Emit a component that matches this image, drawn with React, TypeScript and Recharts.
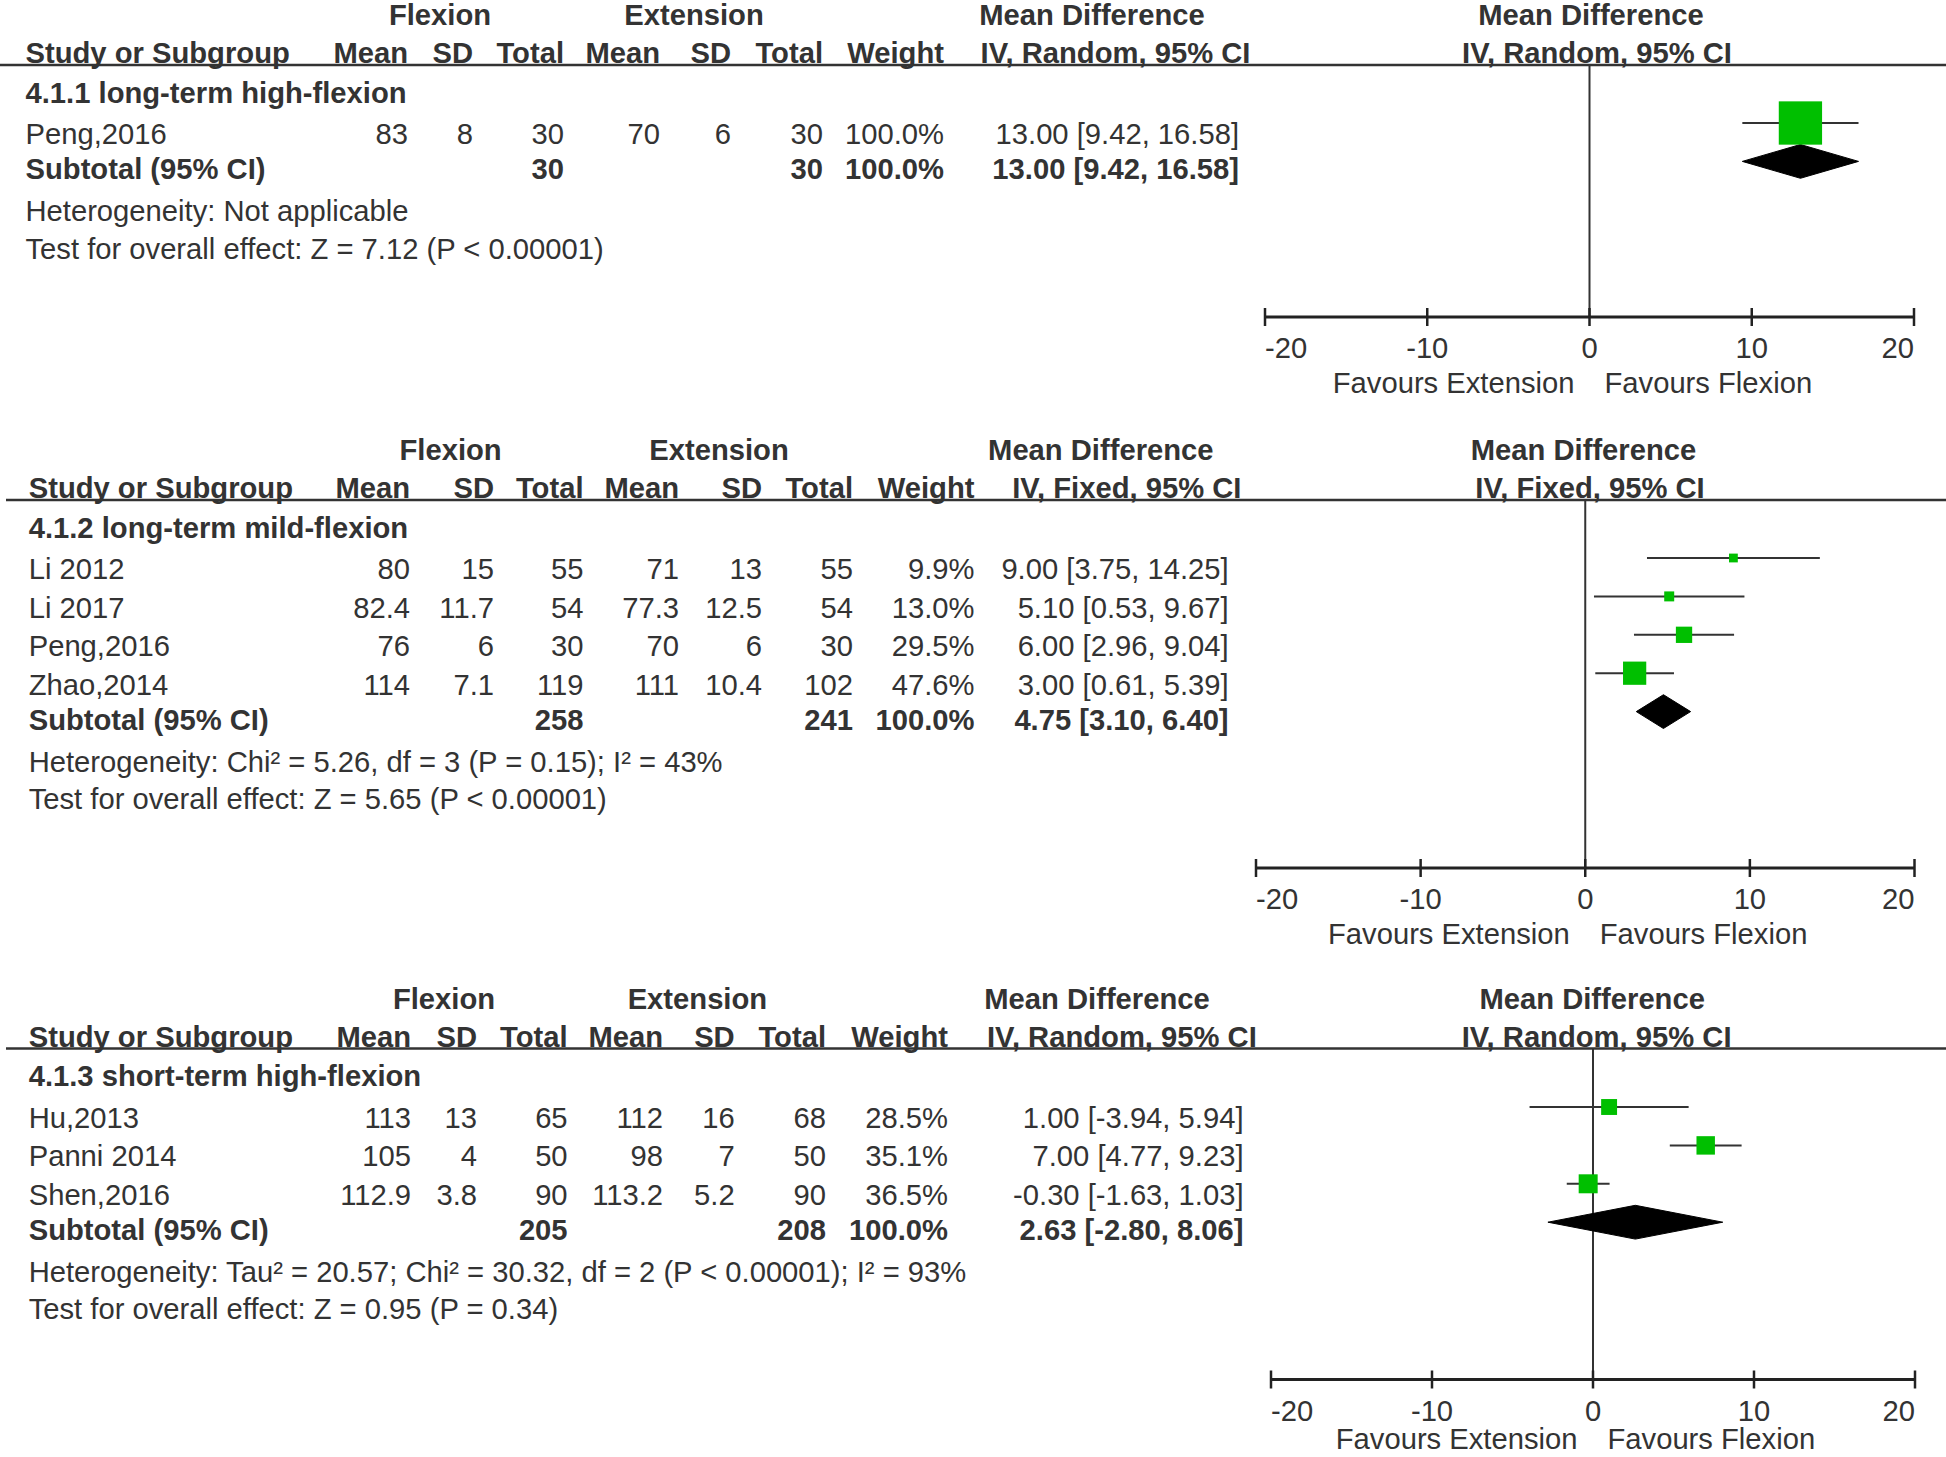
import React from 'react';
import { ComposedChart, Scatter, XAxis, YAxis, ErrorBar, ReferenceLine } from 'recharts';

// ---------------- DATA ----------------
// Panel 1: 4.1.1 long-term high-flexion
const p1Group = '4.1.1 long-term high-flexion';
const p1Method = 'IV, Random, 95% CI';
const p1Studies = ['Peng,2016'];
const p1FlexMean = [83];
const p1FlexSD = [8];
const p1FlexTotal = [30];
const p1ExtMean = [70];
const p1ExtSD = [6];
const p1ExtTotal = [30];
const p1Weight = [100.0];
const p1MD = [13.0];
const p1Lo = [9.42];
const p1Hi = [16.58];
const p1Subtotal = { flexTotal: 30, extTotal: 30, weight: 100.0, md: 13.0, lo: 9.42, hi: 16.58 };
const p1Het = 'Heterogeneity: Not applicable';
const p1Test = 'Test for overall effect: Z = 7.12 (P < 0.00001)';

// Panel 2: 4.1.2 long-term mild-flexion
const p2Group = '4.1.2 long-term mild-flexion';
const p2Method = 'IV, Fixed, 95% CI';
const p2Studies = ['Li 2012', 'Li 2017', 'Peng,2016', 'Zhao,2014'];
const p2FlexMean = [80, 82.4, 76, 114];
const p2FlexSD = [15, 11.7, 6, 7.1];
const p2FlexTotal = [55, 54, 30, 119];
const p2ExtMean = [71, 77.3, 70, 111];
const p2ExtSD = [13, 12.5, 6, 10.4];
const p2ExtTotal = [55, 54, 30, 102];
const p2Weight = [9.9, 13.0, 29.5, 47.6];
const p2MD = [9.0, 5.1, 6.0, 3.0];
const p2Lo = [3.75, 0.53, 2.96, 0.61];
const p2Hi = [14.25, 9.67, 9.04, 5.39];
const p2Subtotal = { flexTotal: 258, extTotal: 241, weight: 100.0, md: 4.75, lo: 3.1, hi: 6.4 };
const p2Het = 'Heterogeneity: Chi\u00B2 = 5.26, df = 3 (P = 0.15); I\u00B2 = 43%';
const p2Test = 'Test for overall effect: Z = 5.65 (P < 0.00001)';

// Panel 3: 4.1.3 short-term high-flexion
const p3Group = '4.1.3 short-term high-flexion';
const p3Method = 'IV, Random, 95% CI';
const p3Studies = ['Hu,2013', 'Panni 2014', 'Shen,2016'];
const p3FlexMean = [113, 105, 112.9];
const p3FlexSD = [13, 4, 3.8];
const p3FlexTotal = [65, 50, 90];
const p3ExtMean = [112, 98, 113.2];
const p3ExtSD = [16, 7, 5.2];
const p3ExtTotal = [68, 50, 90];
const p3Weight = [28.5, 35.1, 36.5];
const p3MD = [1.0, 7.0, -0.3];
const p3Lo = [-3.94, 4.77, -1.63];
const p3Hi = [5.94, 9.23, 1.03];
const p3Subtotal = { flexTotal: 205, extTotal: 208, weight: 100.0, md: 2.63, lo: -2.8, hi: 8.06 };
const p3Het = 'Heterogeneity: Tau\u00B2 = 20.57; Chi\u00B2 = 30.32, df = 2 (P < 0.00001); I\u00B2 = 93%';
const p3Test = 'Test for overall effect: Z = 0.95 (P = 0.34)';

const xTicks = [-20, -10, 0, 10, 20];
const colHeaders = ['Mean', 'SD', 'Total', 'Mean', 'SD', 'Total', 'Weight'];

// ---------------- LAYOUT / STYLE ----------------
const FONT = '"Liberation Sans", Arial, Helvetica, sans-serif';
const FS = 29.2;
const TXT = '#333';
const GREEN = '#00BF00';
const ROW = 38.4;
const DIAMOND_H = 0.44; // half height in row units

const layouts = [
  { ruleY: 65, ruleX0: 0, axisY: 317, xMin: 1265, xMax: 1914, left: 25.5,
    cols: [408, 473, 564, 660, 731, 823, 944], ciRight: 1239, flexC: 440, extC: 694,
    mdC: 1092, ivC: 1115.5, rMdC: 1591, rIvC: 1597 },
  { ruleY: 500, ruleX0: 6, axisY: 868, xMin: 1255.5, xMax: 1914, left: 28.7,
    cols: [410, 494, 583.5, 679, 762, 853, 974.5], ciRight: 1228.6, flexC: 450.6, extC: 719,
    mdC: 1100.8, ivC: 1126.8, rMdC: 1583.5, rIvC: 1590 },
  { ruleY: 1048.5, ruleX0: 6, axisY: 1379, xMin: 1270.5, xMax: 1914.5, left: 28.7,
    cols: [411, 477, 567.6, 663, 734.7, 826, 948], ciRight: 1243.5, flexC: 444, extC: 697.4,
    mdC: 1097, ivC: 1121.9, rMdC: 1592.2, rIvC: 1596.6 },
];

const panels = [
  { group: p1Group, method: p1Method, studies: p1Studies, fm: p1FlexMean, fs: p1FlexSD, ft: p1FlexTotal,
    em: p1ExtMean, es: p1ExtSD, et: p1ExtTotal, w: p1Weight, md: p1MD, lo: p1Lo, hi: p1Hi,
    sub: p1Subtotal, het: p1Het, test: p1Test },
  { group: p2Group, method: p2Method, studies: p2Studies, fm: p2FlexMean, fs: p2FlexSD, ft: p2FlexTotal,
    em: p2ExtMean, es: p2ExtSD, et: p2ExtTotal, w: p2Weight, md: p2MD, lo: p2Lo, hi: p2Hi,
    sub: p2Subtotal, het: p2Het, test: p2Test },
  { group: p3Group, method: p3Method, studies: p3Studies, fm: p3FlexMean, fs: p3FlexSD, ft: p3FlexTotal,
    em: p3ExtMean, es: p3ExtSD, et: p3ExtTotal, w: p3Weight, md: p3MD, lo: p3Lo, hi: p3Hi,
    sub: p3Subtotal, het: p3Het, test: p3Test },
];

const ciText = (md: number, lo: number, hi: number) => `${md.toFixed(2)} [${lo.toFixed(2)}, ${hi.toFixed(2)}]`;

function T({ x, y, anchor = 'start', bold = false, children }: any) {
  return (
    <text x={x} y={y} textAnchor={anchor} fontFamily={FONT} fontSize={FS}
      fontWeight={bold ? 'bold' : 'normal'} fill={TXT}>{children}</text>
  );
}

const AxisTick = (props: any) => {
  const { x, y, payload, index } = props;
  const v = payload.value;
  const anchor = v === xTicks[0] ? 'start' : v === xTicks[xTicks.length - 1] ? 'end' : 'middle';
  return (
    <g key={index}>
      <line x1={x} x2={x} y1={y - 9} y2={y + 9} stroke="#222" strokeWidth={2.5} />
      <text x={x} y={y + 41} textAnchor={anchor} fontFamily={FONT} fontSize={FS} fill={TXT}>{v}</text>
    </g>
  );
};

const SquareShape = (props: any) => {
  const { cx, cy, payload } = props;
  const s = 5 + 0.383 * payload.w;
  return <rect x={cx - s / 2} y={cy - s / 2} width={s} height={s} fill={GREEN} />;
};
const EmptyShape = () => <g />;

function PanelText({ p, L }: any) {
  const n = p.studies.length;
  const symY = (k: number) => L.ruleY + 58 + (k - 1) * ROW;
  const studyBase = (k: number) => symY(k) + 21.4;
  const subBase = symY(n + 1) + 18;
  const hetBase = subBase + 42;
  const testBase = hetBase + 37.6;
  const rowA = L.ruleY - 40;
  const rowB = L.ruleY - 1.8;
  const zeroX = (L.xMin + L.xMax) / 2;
  const favY = Math.min(L.axisY + 75.5, 1449);
  return (
    <g>
      <T x={L.flexC} y={rowA} anchor="middle" bold>Flexion</T>
      <T x={L.extC} y={rowA} anchor="middle" bold>Extension</T>
      <T x={L.mdC} y={rowA} anchor="middle" bold>Mean Difference</T>
      <T x={L.rMdC} y={rowA} anchor="middle" bold>Mean Difference</T>
      <T x={L.left} y={rowB} bold>Study or Subgroup</T>
      {colHeaders.map((h, i) => <T key={i} x={L.cols[i]} y={rowB} anchor="end" bold>{h}</T>)}
      <T x={L.ivC} y={rowB} anchor="middle" bold>{p.method}</T>
      <T x={L.rIvC} y={rowB} anchor="middle" bold>{p.method}</T>
      <line x1={L.ruleX0} x2={1946} y1={L.ruleY} y2={L.ruleY} stroke="#333" strokeWidth={2.5} />
      <T x={L.left} y={L.ruleY + 37.9} bold>{p.group}</T>
      {p.studies.map((s: string, i: number) => {
        const y = studyBase(i + 1);
        const vals = [p.fm[i], p.fs[i], p.ft[i], p.em[i], p.es[i], p.et[i], p.w[i].toFixed(1) + '%'];
        return (
          <g key={s}>
            <T x={L.left} y={y}>{s}</T>
            {vals.map((v, j) => <T key={j} x={L.cols[j]} y={y} anchor="end">{String(v)}</T>)}
            <T x={L.ciRight} y={y} anchor="end">{ciText(p.md[i], p.lo[i], p.hi[i])}</T>
          </g>
        );
      })}
      <T x={L.left} y={subBase} bold>Subtotal (95% CI)</T>
      <T x={L.cols[2]} y={subBase} anchor="end" bold>{String(p.sub.flexTotal)}</T>
      <T x={L.cols[5]} y={subBase} anchor="end" bold>{String(p.sub.extTotal)}</T>
      <T x={L.cols[6]} y={subBase} anchor="end" bold>{p.sub.weight.toFixed(1) + '%'}</T>
      <T x={L.ciRight} y={subBase} anchor="end" bold>{ciText(p.sub.md, p.sub.lo, p.sub.hi)}</T>
      <T x={L.left} y={hetBase}>{p.het}</T>
      <T x={L.left} y={testBase}>{p.test}</T>
      <T x={zeroX - 15} y={favY} anchor="end">Favours Extension</T>
      <T x={zeroX + 15} y={favY} anchor="start">Favours Flexion</T>
    </g>
  );
}

function PanelChart({ p, L }: any) {
  const n = p.studies.length;
  const padX = 40;
  const plotH = L.axisY - L.ruleY;
  const axisH = 60;
  const width = L.xMax - L.xMin + 2 * padX;
  const height = plotH + axisH;
  const d0 = 1 - 58 / ROW;
  const d1 = d0 + plotH / ROW;
  const studyPts = p.studies.map((s: string, i: number) => ({
    name: s, x: p.md[i], y: i + 1, w: p.w[i], err: [p.md[i] - p.lo[i], p.hi[i] - p.md[i]],
  }));
  const r = n + 1;
  const diamond = [
    { x: p.sub.lo, y: r },
    { x: p.sub.md, y: r - DIAMOND_H },
    { x: p.sub.hi, y: r },
    { x: p.sub.md, y: r + DIAMOND_H },
    { x: p.sub.lo, y: r },
  ];
  return (
    <div style={{ position: 'absolute', left: L.xMin - padX, top: L.ruleY, width, height }}>
      <ComposedChart width={width} height={height} margin={{ top: 0, right: padX, bottom: 0, left: padX }}>
        <XAxis type="number" dataKey="x" domain={[-20, 20]} ticks={xTicks} interval={0} allowDataOverflow
          height={axisH} tickLine={false} tickSize={0} tickMargin={0}
          axisLine={{ stroke: '#222', strokeWidth: 3 }} tick={AxisTick} />
        <YAxis type="number" dataKey="y" domain={[d0, d1]} reversed hide allowDataOverflow />
        <ReferenceLine x={0} stroke="#333" strokeWidth={2} />
        <Scatter data={diamond} isAnimationActive={false} shape={EmptyShape} lineType="joint"
          line={{ fill: '#000', stroke: '#000', strokeWidth: 1 }} />
        <Scatter data={studyPts} isAnimationActive={false} shape={SquareShape}>
          <ErrorBar dataKey="err" direction="x" width={0} stroke="#333" strokeWidth={2} isAnimationActive={false} />
        </Scatter>
      </ComposedChart>
    </div>
  );
}

export default function App() {
  return (
    <div style={{ position: 'absolute', left: 0, top: 0, width: 1946, height: 1457, background: '#fff', overflow: 'hidden' }}>
      {panels.map((p, i) => <PanelChart key={i} p={p} L={layouts[i]} />)}
      <svg width={1946} height={1457} style={{ position: 'absolute', left: 0, top: 0, pointerEvents: 'none' }}>
        {panels.map((p, i) => <PanelText key={i} p={p} L={layouts[i]} />)}
      </svg>
    </div>
  );
}
